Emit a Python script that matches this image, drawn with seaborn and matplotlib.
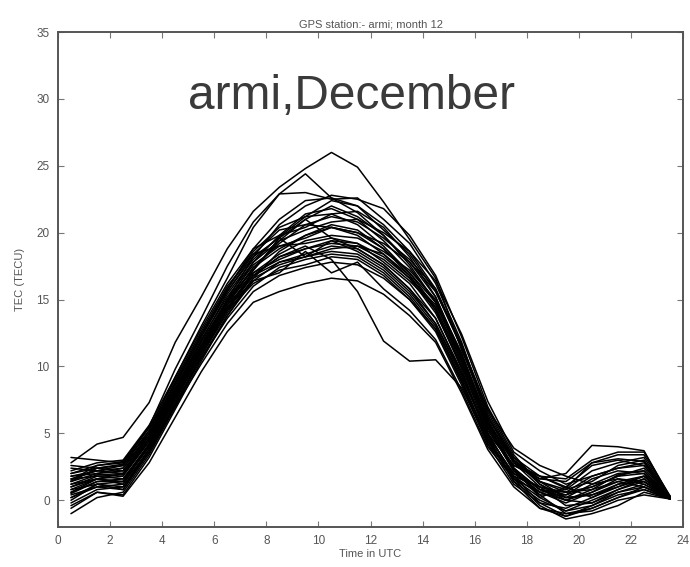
import numpy as np
import pandas as pd
import matplotlib
matplotlib.use("Agg")
import matplotlib.pyplot as plt
import seaborn as sns

hours = [0.5, 1.5, 2.5, 3.5, 4.5, 5.5, 6.5, 7.5, 8.5, 9.5, 10.5, 11.5,
         12.5, 13.5, 14.5, 15.5, 16.5, 17.5, 18.5, 19.5, 20.5, 21.5, 22.5, 23.5]

d01 = [2.8, 4.2, 4.7, 7.3, 11.8, 15.2, 18.8, 21.6, 23.4, 24.8, 26.0, 24.9, 22.3, 19.5, 16.6, 11.2, 6.8, 3.9, 2.6, 1.8, 1.2, 1.6, 1.4, 0.2]
d02 = [1.5, 2.6, 2.9, 5.5, 9.8, 13.6, 17.5, 20.8, 22.9, 24.4, 22.6, 21.5, 19.8, 17.6, 14.8, 10.6, 5.8, 3.0, 1.4, 0.6, 0.8, 1.9, 2.2, 0.1]
d03 = [2.0, 2.4, 2.7, 5.2, 9.2, 13.0, 16.6, 20.4, 22.9, 23.0, 22.5, 22.6, 21.0, 19.2, 16.2, 11.8, 6.2, 3.2, 1.8, 0.9, 2.8, 3.1, 2.9, 0.2]
d04 = [0.8, 1.6, 1.2, 4.2, 7.9, 11.4, 15.0, 18.2, 20.6, 22.0, 22.8, 22.5, 21.8, 19.8, 16.8, 12.2, 7.0, 3.4, 1.2, 0.2, 0.4, 1.0, 1.8, 0.2]
d05 = [1.2, 1.9, 2.0, 4.6, 8.3, 11.9, 15.4, 18.0, 19.7, 21.2, 22.4, 22.0, 20.2, 18.4, 15.6, 11.4, 6.4, 2.8, 1.0, -0.4, -0.2, 0.6, 1.2, 0.1]
d06 = [0.2, 1.0, 0.8, 3.6, 7.2, 10.8, 14.2, 17.2, 19.4, 21.0, 22.0, 21.2, 19.8, 17.8, 15.2, 10.6, 5.4, 2.2, 0.4, -1.0, -0.6, 0.2, 0.8, 0.1]
d07 = [1.8, 2.2, 2.4, 5.0, 8.8, 12.4, 15.8, 18.6, 20.4, 21.2, 21.4, 20.6, 19.0, 17.0, 14.4, 10.2, 5.2, 2.6, 1.6, 2.0, 4.1, 4.0, 3.7, 0.2]
d08 = [0.5, 1.4, 1.6, 4.0, 7.6, 11.2, 14.6, 17.4, 19.2, 20.6, 21.2, 20.8, 19.6, 18.0, 15.8, 11.6, 6.6, 3.0, 1.2, 0.0, 0.6, 1.4, 1.0, 0.2]
d09 = [2.4, 2.2, 2.6, 4.8, 8.4, 12.0, 15.2, 17.8, 19.4, 20.2, 20.8, 21.0, 20.0, 18.6, 16.4, 12.4, 7.4, 3.6, 2.2, 1.2, 1.8, 2.4, 2.6, 0.3]
d10 = [-0.6, 0.6, 0.4, 3.2, 6.8, 10.4, 13.8, 16.6, 18.6, 19.8, 20.6, 20.2, 18.8, 16.8, 14.2, 9.8, 4.6, 1.6, -0.4, -1.4, -1.0, -0.4, 0.6, 0.1]
d11 = [1.0, 1.8, 1.9, 4.4, 8.0, 11.6, 15.0, 17.6, 19.0, 19.6, 20.4, 19.8, 18.4, 16.6, 14.0, 10.0, 5.6, 2.4, 0.8, 0.2, 1.2, 2.0, 2.2, 0.2]
d12 = [1.4, 2.0, 2.2, 4.8, 8.6, 12.2, 15.6, 18.2, 19.6, 21.0, 19.6, 19.2, 17.8, 16.2, 13.6, 9.4, 4.8, 2.0, 0.6, 0.8, 2.2, 2.8, 3.2, 0.2]
d13 = [0.0, 1.2, 1.0, 3.8, 7.4, 11.0, 14.4, 17.0, 18.4, 19.4, 19.8, 19.6, 18.6, 17.2, 15.0, 11.0, 6.0, 2.4, 0.2, -0.8, 0.0, 0.8, 1.4, 0.1]
d14 = [2.0, 2.6, 2.8, 5.4, 9.0, 12.6, 16.0, 18.4, 19.0, 19.2, 19.6, 18.8, 17.6, 15.8, 13.2, 9.2, 5.0, 2.6, 1.8, 1.0, 0.2, 1.0, 1.6, 0.2]
d15 = [0.6, 1.4, 1.4, 4.0, 7.6, 11.0, 14.2, 16.8, 18.2, 18.8, 19.4, 19.2, 18.2, 16.6, 14.6, 10.8, 5.8, 2.2, 0.6, -0.2, 0.6, 1.6, 1.2, 0.2]
d16 = [1.6, 2.2, 2.0, 4.6, 8.2, 11.8, 15.0, 17.2, 19.6, 18.2, 19.4, 18.6, 17.4, 15.6, 13.2, 9.4, 5.0, 1.8, 0.4, 0.4, 1.6, 2.2, 2.0, 0.1]
d17 = [-1.0, 0.2, 0.6, 3.4, 7.0, 10.6, 13.8, 16.4, 17.8, 18.4, 19.0, 18.8, 17.6, 15.8, 13.6, 9.6, 4.8, 1.4, -0.6, -1.2, -0.4, 0.4, 0.8, 0.1]
d18 = [1.2, 1.6, 1.8, 4.4, 8.0, 11.4, 14.6, 16.8, 17.8, 18.2, 18.6, 18.4, 17.2, 15.4, 13.0, 9.0, 4.4, 1.6, 0.2, 1.0, 2.6, 3.0, 2.6, 0.2]
d19 = [0.4, 1.0, 1.2, 3.8, 7.2, 10.6, 13.6, 16.0, 17.4, 18.0, 18.4, 18.2, 17.0, 15.2, 12.8, 8.8, 4.2, 1.2, -0.2, -0.6, 0.2, 1.2, 1.8, 0.1]
d20 = [2.6, 2.4, 2.2, 4.6, 8.0, 11.2, 14.2, 16.2, 17.2, 17.6, 18.2, 18.0, 16.8, 15.0, 12.6, 8.6, 4.2, 1.8, 1.0, 0.6, 1.0, 1.8, 2.4, 0.2]
d21 = [0.8, 1.2, 0.8, 3.6, 7.0, 10.2, 13.2, 15.6, 16.8, 17.4, 17.8, 17.6, 16.6, 15.0, 12.8, 9.0, 4.6, 1.4, 0.0, -0.8, -0.4, 0.6, 1.0, 0.1]
d22 = [1.8, 2.0, 2.4, 4.8, 8.2, 11.4, 14.4, 16.4, 17.0, 18.6, 17.0, 17.8, 15.8, 14.2, 12.0, 8.2, 4.0, 1.6, 0.6, 0.0, 0.8, 1.4, 1.8, 0.2]
d23 = [-0.4, 0.6, 0.3, 2.8, 6.2, 9.6, 12.6, 14.8, 15.6, 16.2, 16.6, 16.4, 15.4, 13.8, 11.8, 8.0, 3.8, 1.0, -0.6, -1.0, -0.8, 0.0, 0.4, 0.1]
d24 = [1.0, 1.6, 1.4, 4.2, 7.8, 11.2, 14.4, 16.8, 18.2, 19.0, 18.0, 15.6, 11.9, 10.4, 10.5, 8.4, 4.4, 2.0, 1.0, 0.4, 1.0, 1.8, 2.0, 0.2]
d25 = [1.4, 2.4, 2.6, 5.2, 8.8, 12.4, 15.8, 18.8, 21.0, 22.4, 22.6, 22.0, 20.6, 18.6, 15.8, 11.4, 6.2, 3.0, 1.6, 1.4, 2.8, 3.4, 3.4, 0.3]
d26 = [0.2, 1.2, 1.4, 4.0, 7.6, 11.2, 14.8, 17.8, 19.8, 21.4, 21.8, 21.0, 19.4, 17.4, 14.8, 10.4, 5.4, 2.2, 0.8, 0.0, -0.2, 0.8, 1.6, 0.1]
d27 = [3.2, 3.0, 2.8, 5.0, 8.6, 12.2, 15.6, 18.4, 20.2, 20.6, 20.4, 20.0, 18.8, 17.0, 14.8, 10.8, 6.0, 2.8, 1.4, 0.8, 1.4, 2.6, 3.0, 0.2]
d28 = [1.6, 1.8, 1.6, 4.2, 7.8, 11.4, 14.8, 17.4, 18.8, 19.8, 20.4, 20.0, 19.2, 17.8, 15.6, 11.6, 6.8, 3.2, 1.4, 0.2, 0.4, 1.2, 1.4, 0.2]
d29 = [0.6, 1.6, 2.0, 4.6, 8.2, 11.6, 14.8, 17.0, 18.0, 18.8, 19.2, 19.0, 18.0, 16.4, 14.4, 10.4, 5.6, 2.4, 0.8, 0.6, 1.8, 2.4, 2.8, 0.2]
d30 = [2.2, 2.8, 3.0, 5.6, 9.2, 12.8, 16.2, 18.8, 19.8, 20.4, 21.4, 21.6, 20.4, 18.2, 15.2, 10.8, 5.8, 2.8, 1.8, 1.6, 3.0, 3.6, 3.6, 0.3]
d31 = [-0.2, 0.8, 1.0, 3.6, 7.2, 10.8, 14.0, 16.6, 17.6, 18.2, 18.8, 19.0, 18.4, 16.8, 14.2, 10.0, 5.0, 1.8, -0.2, -1.2, -0.6, 0.2, 1.0, 0.1]

days = [d01, d02, d03, d04, d05, d06, d07, d08, d09, d10, d11, d12, d13, d14, d15, d16,
        d17, d18, d19, d20, d21, d22, d23, d24, d25, d26, d27, d28, d29, d30, d31]

x_ticks = list(range(0, 25, 2))
y_ticks = list(range(0, 36, 5))

rows = []
for i, vals in enumerate(days):
    for h, v in zip(hours, vals):
        rows.append({"day": i + 1, "hour": h, "tec": v})
df = pd.DataFrame(rows)

sns.set_style("white")
plt.rcParams['font.family'] = ['Liberation Sans', 'DejaVu Sans']

fig = plt.figure(figsize=(6.9, 5.67), dpi=100)
ax = fig.add_axes([0.084, 0.0705, 0.906, 0.873])

sns.lineplot(data=df, x="hour", y="tec", units="day", estimator=None,
             color="black", linewidth=1.1, ax=ax, legend=False)

ax.set_xlim(0, 24)
ax.set_ylim(-2, 35)
ax.set_xticks(x_ticks)
ax.set_yticks(y_ticks)
ax.tick_params(direction="in", length=4, width=0.8, colors="#777777",
               labelcolor="#555555", labelsize=8.5, top=True, right=True,
               bottom=True, left=True, pad=6)
for s in ax.spines.values():
    s.set_visible(True)
    s.set_color("#555555")
    s.set_linewidth(1.4)

ax.set_xlabel("Time in UTC", fontsize=8, color="#555555", labelpad=1)
ax.set_ylabel("TEC (TECU)", fontsize=8, color="#555555", labelpad=8)
ax.set_title("GPS station:- armi; month 12", fontsize=8, color="#555555", pad=3)

ax.text(0.47, 0.87, "armi,December", transform=ax.transAxes, ha="center", va="center",
        fontsize=34.5, color="#3a3a3a")

fig.savefig("out.png", dpi=100)
